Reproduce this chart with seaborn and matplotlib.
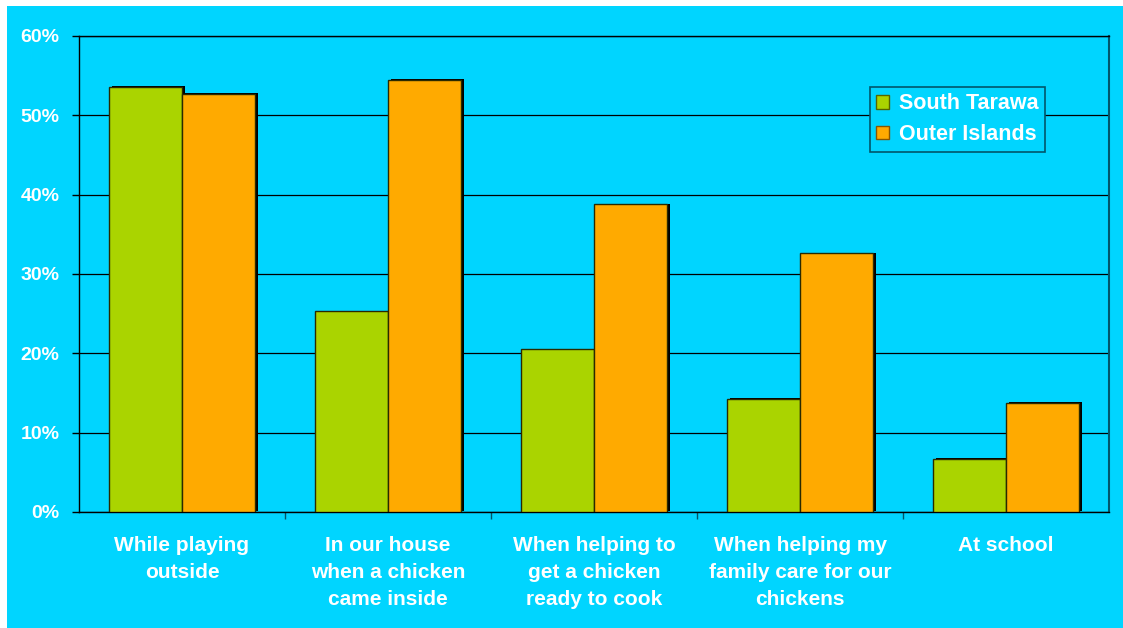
import matplotlib
matplotlib.use("Agg")
import matplotlib.pyplot as plt
import matplotlib.patheffects as pe
from matplotlib.patches import Rectangle, Patch
from matplotlib.ticker import FixedLocator, FuncFormatter
import seaborn as sns
import pandas as pd

categories = [
    "While playing\noutside",
    "In our house\nwhen a chicken\ncame inside",
    "When helping to\nget a chicken\nready to cook",
    "When helping my\nfamily care for our\nchickens",
    "At school",
]
series_names = ["South Tarawa", "Outer Islands"]
south_tarawa = [53.6, 25.3, 20.5, 14.3, 6.7]
outer_islands = [52.7, 54.5, 38.8, 32.6, 13.8]
y_ticks = [0, 10, 20, 30, 40, 50, 60]

BG = "#00D5FF"
GREEN = "#AAD400"
ORANGE = "#FFAA00"
TEAL = "#00566B"

df = pd.DataFrame({
    "category": categories * 2,
    "series": [series_names[0]] * len(categories) + [series_names[1]] * len(categories),
    "value": south_tarawa + outer_islands,
})

sns.set_theme(style="white")
plt.rcParams["font.family"] = ["Liberation Sans", "DejaVu Sans"]
plt.rcParams["font.weight"] = "bold"

fig = plt.figure(figsize=(11.23, 6.28), dpi=100, facecolor="white")
fig.patches.append(Rectangle((7 / 1123, 0), 1, 1 - 6 / 628, transform=fig.transFigure,
                             facecolor=BG, edgecolor="none", zorder=-10))
ax = fig.add_axes([79 / 1123, 1 - 512 / 628, 1030 / 1123, 476 / 628])
ax.set_facecolor(BG)

sns.barplot(data=df, x="category", y="value", hue="series",
            palette=[GREEN, ORANGE], width=0.71, ax=ax,
            edgecolor="#2a2a00", linewidth=1.0, saturation=1, legend=False,
            zorder=3)
for bar in ax.patches:
    bar.set_path_effects([pe.SimplePatchShadow(offset=(2.4, 0.4), shadow_rgbFace="black", alpha=1.0),
                          pe.Normal()])

ax.set_ylim(0, 60)
ax.set_xlim(-0.5, len(categories) - 0.5)
ax.yaxis.set_major_locator(FixedLocator(y_ticks))
ax.yaxis.set_major_formatter(FuncFormatter(lambda v, p: f"{int(v)}%"))
ax.grid(axis="y", color="black", linewidth=0.9, zorder=0)
ax.set_axisbelow(True)

for side in ["left", "bottom", "top"]:
    ax.spines[side].set_visible(True)
    ax.spines[side].set_color("black")
    ax.spines[side].set_linewidth(1.0)
ax.spines["right"].set_visible(True)
ax.spines["right"].set_color(TEAL)
ax.spines["right"].set_linewidth(1.5)

ax.set_xlabel("")
ax.set_ylabel("")
ax.tick_params(axis="y", which="major", length=5, width=1, color="black",
               labelsize=14, labelcolor="white", pad=9, left=True)
ax.tick_params(axis="x", which="major", length=0, labelsize=15,
               labelcolor="white", pad=17)
ax.xaxis.set_minor_locator(FixedLocator([i + 0.5 for i in range(len(categories) - 1)]))
ax.tick_params(axis="x", which="minor", length=5, width=1, color=TEAL, bottom=True)
for lbl in ax.get_xticklabels():
    lbl.set_fontweight("bold")
    lbl.set_linespacing(1.55)
for lbl in ax.get_yticklabels():
    lbl.set_fontweight("bold")

handles = [Patch(facecolor=GREEN, edgecolor="#556600", linewidth=1),
           Patch(facecolor=ORANGE, edgecolor="#885500", linewidth=1)]
leg = ax.legend(handles, series_names, loc="upper right", bbox_to_anchor=(0.938, 0.893),
                frameon=True, fancybox=False, facecolor=BG, edgecolor=TEAL,
                framealpha=1, handlelength=0.6, handleheight=0.6, handletextpad=0.45,
                borderpad=0.3, labelspacing=0.45, prop={"size": 15.5, "weight": "bold"},
                borderaxespad=0)
leg.get_frame().set_linewidth(1.2)
for t in leg.get_texts():
    t.set_color("white")
leg.set_zorder(5)

fig.savefig("out.png", dpi=100, facecolor="white")
